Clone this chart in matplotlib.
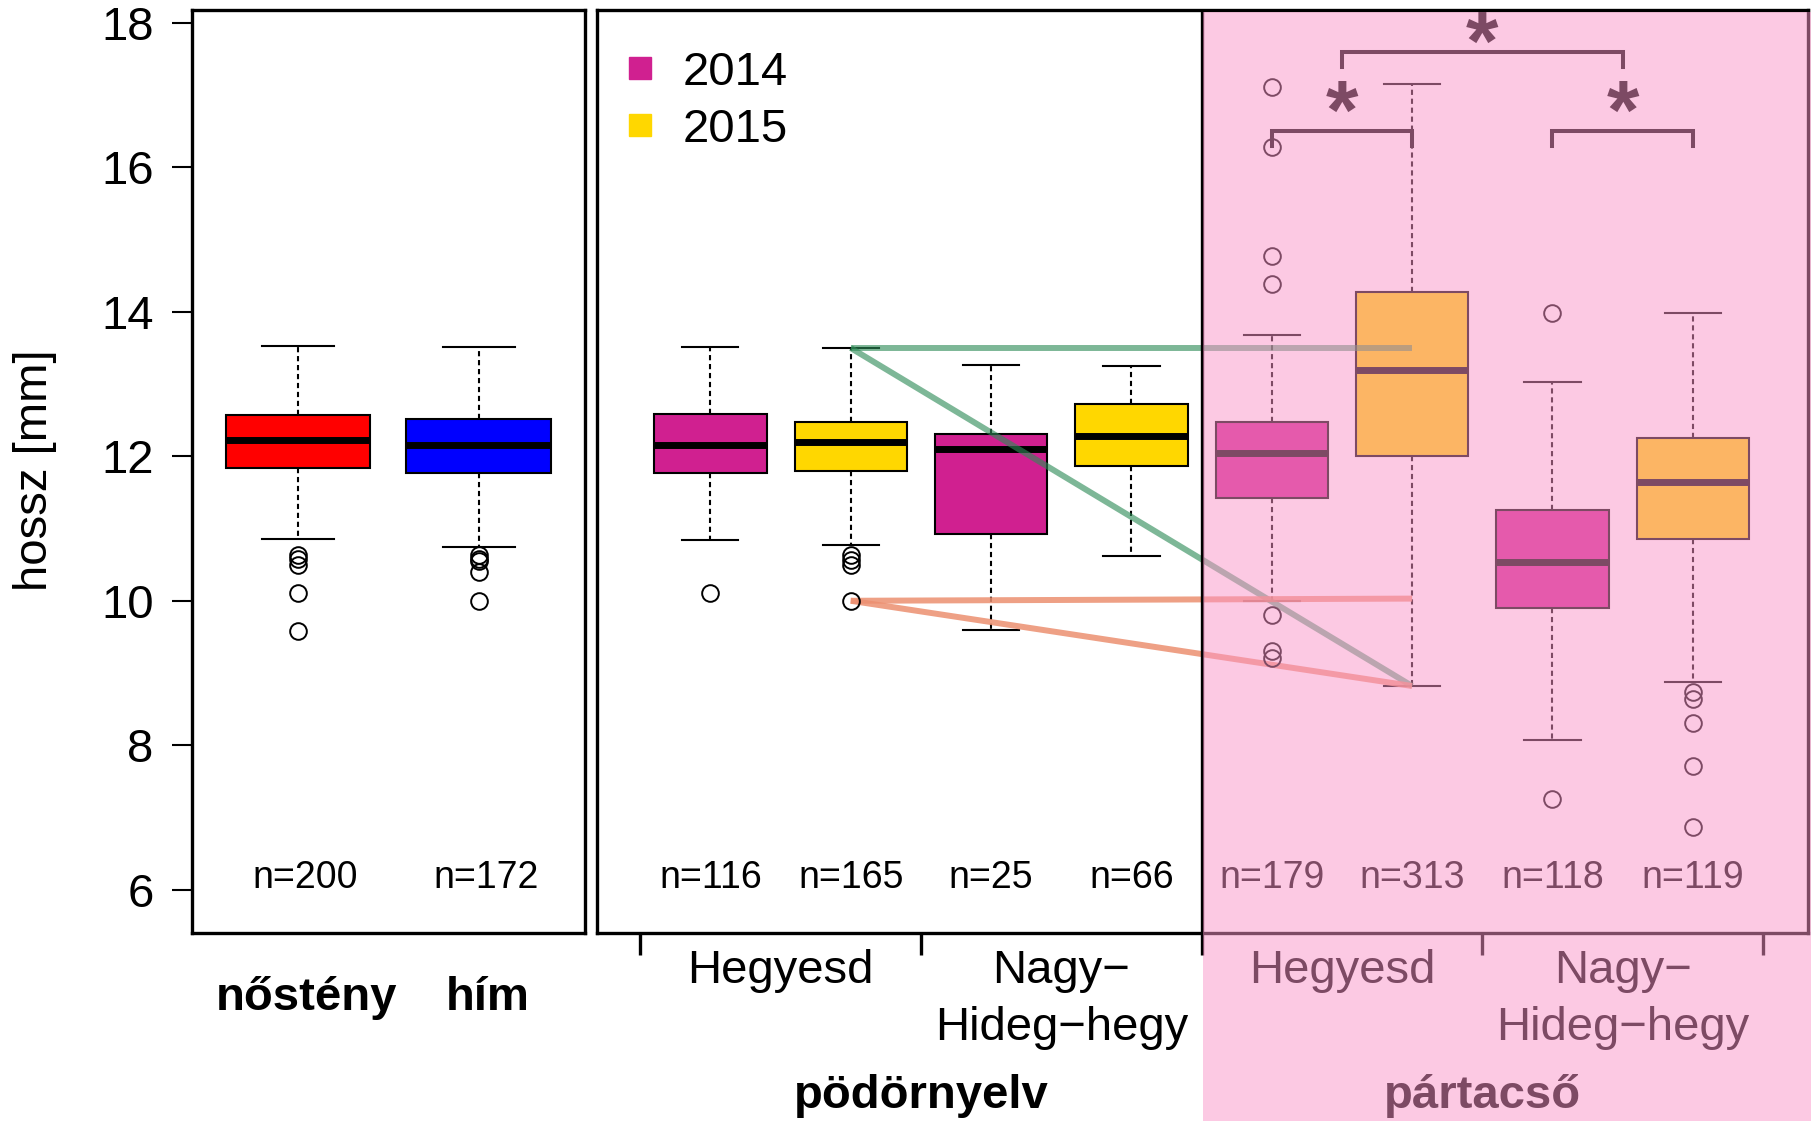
import matplotlib.pyplot as plt
from matplotlib.patches import Rectangle
from matplotlib.lines import Line2D

plt.rcParams['font.family'] = ['Liberation Sans', 'DejaVu Sans']

# bal panel: nemek
sex_labels = ['nőstény', 'hím']
sex_n = [200, 172]
sex_colors = ['#FF0000', '#0000FF']
sex_whishi = [13.53, 13.52]
sex_q3 = [12.57, 12.52]
sex_med = [12.23, 12.16]
sex_q1 = [11.84, 11.77]
sex_whislo = [10.85, 10.74]
sex_fliers = [[10.64, 10.58, 10.50, 10.11, 9.58],
              [10.64, 10.58, 10.55, 10.40, 9.99]]

# jobb panel: faj x hely x év (2014, 2015 váltakozva)
species = ['pödörnyelv', 'pártacső']
sites = ['Hegyesd', 'Nagy−\nHideg−hegy']
years = ['2014', '2015']
year_colors = ['#D02090', '#FFD700']
grp_n = [116, 165, 25, 66, 179, 313, 118, 119]
grp_whishi = [13.52, 13.50, 13.26, 13.25, 13.68, 17.16, 13.03, 13.98]
grp_q3 = [12.59, 12.47, 12.31, 12.73, 12.48, 14.28, 11.25, 12.25]
grp_med = [12.16, 12.20, 12.10, 12.28, 12.04, 13.19, 10.54, 11.64]
grp_q1 = [11.77, 11.79, 10.93, 11.86, 11.42, 12.01, 9.90, 10.86]
grp_whislo = [10.84, 10.77, 9.59, 10.62, 10.00, 8.82, 8.07, 8.87]
grp_fliers = [[10.11], [10.64, 10.56, 10.49, 10.00], [], [],
              [17.11, 16.28, 14.78, 14.38, 9.80, 9.31, 9.21], [],
              [13.98, 7.26], [8.74, 8.64, 8.31, 7.71, 6.87]]

# összekötő vonalak (pödörnyelv Hegyesd 2015 -> pártacső Hegyesd 2015)
link_x = [2, 6]
green_flat = [13.50, 13.50]
green_diag = [13.50, 8.82]
red_flat = [10.00, 10.03]
red_diag = [10.00, 8.82]

# szignifikancia jelek: (x1, x2)
sig_pairs = [(5, 6), (7, 8), (5.5, 7.5)]
sig_levels = [16.50, 16.50, 17.60]

YLIM = (5.40, 18.18)
FS = 34


def make_stats(whishi, q3, med, q1, whislo, fliers):
    return [dict(whishi=a, q3=b, med=c, q1=d, whislo=e, fliers=f)
            for a, b, c, d, e, f in zip(whishi, q3, med, q1, whislo, fliers)]


def draw_boxes(ax, stats, colors):
    bp = ax.bxp(stats, positions=range(1, len(stats) + 1), widths=0.8,
                capwidths=0.4, patch_artist=True, zorder=2,
                boxprops=dict(lw=1.5, edgecolor='black'),
                medianprops=dict(color='black', lw=5, solid_capstyle='butt'),
                whiskerprops=dict(lw=1.5, ls=(0, (2.5, 1.8))),
                capprops=dict(lw=1.5),
                flierprops=dict(marker='o', mfc='none', mec='black', ms=12, mew=1.4))
    for patch, c in zip(bp['boxes'], colors):
        patch.set_facecolor(c)
    for f in bp['fliers']:
        f.set_zorder(4)
    return bp


fig = plt.figure(figsize=(18.17, 11.21), dpi=100)
ax1 = fig.add_axes([0.1055, 0.1677, 0.2165, 0.8234])
ax2 = fig.add_axes([0.3284, 0.1677, 0.6666, 0.8234])

for ax in (ax1, ax2):
    ax.set_ylim(*YLIM)
    for s in ax.spines.values():
        s.set_linewidth(2.4)

# bal panel
draw_boxes(ax1, make_stats(sex_whishi, sex_q3, sex_med, sex_q1, sex_whislo, sex_fliers), sex_colors)
ax1.set_xlim(0.413, 2.588)
ax1.set_yticks(range(6, 19, 2))
ax1.tick_params(axis='y', length=14.4, width=1.5, pad=13, labelsize=FS)
ax1.set_xticks([])
for i, (lab, n) in enumerate(zip(sex_labels, sex_n)):
    ax1.text(i + 1.04, 6.16, f'n={n}', ha='center', va='center', fontsize=27)
    ax1.text(i + 1.05, -0.070, lab, ha='center', va='center', fontsize=FS,
             fontweight='bold', transform=ax1.get_xaxis_transform())

# jobb panel
grp_colors = year_colors * 4
draw_boxes(ax2, make_stats(grp_whishi, grp_q3, grp_med, grp_q1, grp_whislo, grp_fliers), grp_colors)
ax2.set_xlim(0.19, 8.82)
ax2.set_yticks([])
ax2.set_xticks([0.5, 2.5, 4.5, 6.5, 8.5])
ax2.set_xticklabels([])
ax2.tick_params(axis='x', length=16, width=2.4)
ax2.axvline(4.5, color='black', lw=2.4, zorder=5)

for i, n in enumerate(grp_n):
    ax2.text(i + 1, 6.16, f'n={n}', ha='center', va='center', fontsize=27)

xt = ax2.get_xaxis_transform()
for k, sp in enumerate(species):
    for j, site in enumerate(sites):
        ax2.text(4 * k + 2 * j + 1.5, -0.0415 if j == 0 else -0.0720, site,
                 ha='center', va='center', fontsize=FS, transform=xt, linespacing=1.37)
    ax2.text(4 * k + 2.5, -0.177, sp, ha='center', va='center', fontsize=FS,
             fontweight='bold', transform=xt)

ax2.plot(link_x, green_flat, color='#2E8B57', alpha=0.62, lw=4.3, zorder=3, solid_capstyle='butt')
ax2.plot(link_x, green_diag, color='#2E8B57', alpha=0.62, lw=4.3, zorder=3, solid_capstyle='butt')
ax2.plot(link_x, red_flat, color='#EC8F70', alpha=0.85, lw=4.3, zorder=3, solid_capstyle='butt')
ax2.plot(link_x, red_diag, color='#EC8F70', alpha=0.85, lw=4.3, zorder=3, solid_capstyle='butt')

for (x1, x2), lev in zip(sig_pairs, sig_levels):
    ax2.plot([x1, x1, x2, x2], [lev - 0.21, lev, lev, lev - 0.21], color='black', lw=2.9,
             solid_joinstyle='miter', zorder=4)
    off = 0.25 if lev > 17 else 0.11
    ax2.text((x1 + x2) / 2, lev - off, '*', ha='center', va='baseline',
             fontsize=60, fontweight='bold')

handles = [Line2D([], [], marker='s', ls='', ms=16, color=c) for c in year_colors]
ax2.legend(handles, years, loc='upper left', bbox_to_anchor=(0.0201, 0.956),
           frameon=False, fontsize=FS, handlelength=0.8, handletextpad=0.51,
           labelspacing=0.28, borderaxespad=0, borderpad=0)

fig.text(35 / 1817, 1 - 470 / 1121, 'hossz [mm]', rotation=90, ha='center', va='center', fontsize=FS)

# rózsaszín áttetsző takarás a pártacső részen
fig.add_artist(Rectangle((1202.5 / 1817, 0), (1811 - 1202.5) / 1817, 1 - 11.5 / 1121,
                         transform=fig.transFigure, facecolor='#FA94C8', alpha=0.5,
                         lw=0, zorder=10))

fig.savefig('out.png', dpi=100)
